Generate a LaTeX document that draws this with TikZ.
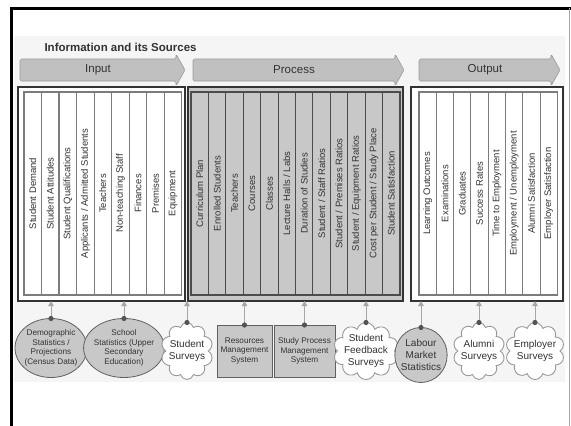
\documentclass[tikz,border=0pt]{standalone}
\usepackage{fontspec}
\setmainfont{Liberation Sans}
\usetikzlibrary{shapes.geometric,shapes.symbols,arrows.meta}
\definecolor{boxgray}{HTML}{C8C8C8}
\definecolor{arrowgray}{HTML}{C0C0C0}
\definecolor{linegray}{HTML}{7C7C7C}
\definecolor{framegray}{HTML}{333333}
\definecolor{txt}{HTML}{333333}
\definecolor{bggray}{HTML}{F5F5F5}
\begin{document}
\begin{tikzpicture}[x=1pt,y=-1pt,
  frame/.style={draw=framegray,line width=1.6pt,rectangle,inner sep=0pt,outer sep=0pt},
  col/.style={draw=linegray,line width=1.1pt,rectangle,rotate=90,inner sep=0pt,outer sep=0pt,
    minimum width=203pt,text=txt,font=\fontsize{9.5}{11}\selectfont},
  bigarrow/.style={fill=arrowgray,draw=gray!80,line width=0.6pt,rounded corners=1.5pt},
  arrowlabel/.style={text=txt,font=\fontsize{11.5}{13}\selectfont},
  src/.style={text=txt,align=center,inner sep=-1.5pt,outer sep=0pt},
  small/.style={font=\fontsize{8.2}{9.7}\selectfont},
  big/.style={font=\fontsize{10}{12}\selectfont},
  grayshape/.style={fill=boxgray,draw=gray!75!black,line width=0.8pt},
  cloudshape/.style={cloud,cloud puffs=10,cloud ignores aspect,fill=white,draw=gray!80,line width=0.9pt,
    minimum width=52pt,minimum height=57pt},
  feed/.style={draw=gray!70,line width=1pt,-{Triangle[width=5.5pt,length=5pt]}},
  dot/.style={fill=gray!65!black}
]
\useasboundingbox (0,0) rectangle (571,426);
% background and outer frame
\fill[bggray] (14,36) rectangle (565,382);
\draw[black,line width=3pt] (11,426) -- (11,8) -- (571,8);
\draw[gray!70,line width=1.2pt] (569.5,8) -- (569.5,426);

% title
\node[anchor=west,text=txt,font=\bfseries\fontsize{11.5}{13}\selectfont] (title) at (41,47) {Information and its Sources};

% block arrows
\draw[bigarrow] (20,59) -- (176,59) -- (176,54) -- (185,70) -- (176,86) -- (176,81) -- (20,81) -- cycle;
\draw[bigarrow] (193,59) -- (395,59) -- (395,54) -- (404,70) -- (395,86) -- (395,81) -- (193,81) -- cycle;
\draw[bigarrow] (419,59) -- (551,59) -- (551,54) -- (560,70) -- (551,86) -- (551,81) -- (419,81) -- cycle;
\node[arrowlabel] (lin) at (98,70) {Input};
\node[arrowlabel] (lproc) at (294,70) {Process};
\node[arrowlabel] (lout) at (485,70) {Output};

% frames
\node[frame,fill=white,minimum width=167pt,minimum height=214pt] (inframe) at (101.5,194) {};
\node[frame,fill=boxgray,minimum width=215pt,minimum height=214pt] (procframe) at (295.5,194) {};
\node[frame,fill=white,minimum width=152pt,minimum height=214pt] (outframe) at (487,194) {};

% columns
\foreach \t [count=\i] in {Student Demand,Student Attitudes,Student Qualifications,
  Applicants / Admitted Students,Teachers,Non-teaching Staff,Finances,Premises,Equipment}
  \node[col,fill=white,minimum height=17.52pt] (in\i) at ({24+17.52*(\i-0.5)},193.5) {\t};
\foreach \t [count=\i] in {Curriculum Plan,Enrolled Students,Teachers,Courses,Classes,
  Lecture Halls / Labs,Duration of Studies,Student / Staff Ratios,Student / Premises Ratios,
  Student / Equipment Ratios,Cost per Student / Study Place,Student Satisfaction}
  \node[col,fill=boxgray,draw=gray!60!black,minimum height=17.42pt] (pr\i) at ({191+17.42*(\i-0.5)},193.5) {\t};
\foreach \t [count=\i] in {Learning Outcomes,Examinations,Graduates,Success Rates,
  Time to Employment,Employment / Unemployment,Alumni Satisfaction,Employer Satisfaction}
  \node[col,fill=white,minimum height=17.3pt] (ou\i) at ({419+17.3*(\i-0.5)},193.5) {\t};

% sources
\node[src,small,ellipse,grayshape,minimum width=72pt,minimum height=59pt] (s1) at (51,348)
  {Demographic\\Statistics /\\Projections\\(Census Data)};
\node[src,small,ellipse,grayshape,minimum width=70pt,minimum height=59pt] (s2) at (124,348)
  {School\\Statistics (Upper\\Secondary\\Education)};
\node[src,big,cloudshape] (s3) at (187,351) {Student\\Surveys};
\node[src,small,rectangle,grayshape,minimum width=55pt,minimum height=52pt] (s4) at (244.5,351)
  {Resources\\Management\\System};
\node[src,small,rectangle,grayshape,minimum width=61pt,minimum height=52pt] (s5) at (304.5,351)
  {Study Process\\Management\\System};
\node[src,big,cloudshape,minimum width=57pt] (s6) at (366,351) {Student\\Feedback\\Surveys};
\node[src,big,ellipse,grayshape,minimum width=46pt,minimum height=55pt] (s7) at (421,355)
  {Labour\\Market\\Statistics};
\node[src,big,cloudshape] (s8) at (479,351) {Alumni\\Surveys};
\node[src,big,cloudshape,minimum width=56pt] (s9) at (535,351) {Employer\\Surveys};

% feeders
\foreach \s/\f in {s1/inframe,s2/inframe,s3/inframe,s4/procframe,s5/procframe,s6/procframe,s7/outframe,s8/outframe,s9/outframe}{
  \draw[feed] (\s.north) -- (\s.north |- \f.south);
  \fill[dot] (\s.north) circle (2.6pt);
}
\end{tikzpicture}
\end{document}
